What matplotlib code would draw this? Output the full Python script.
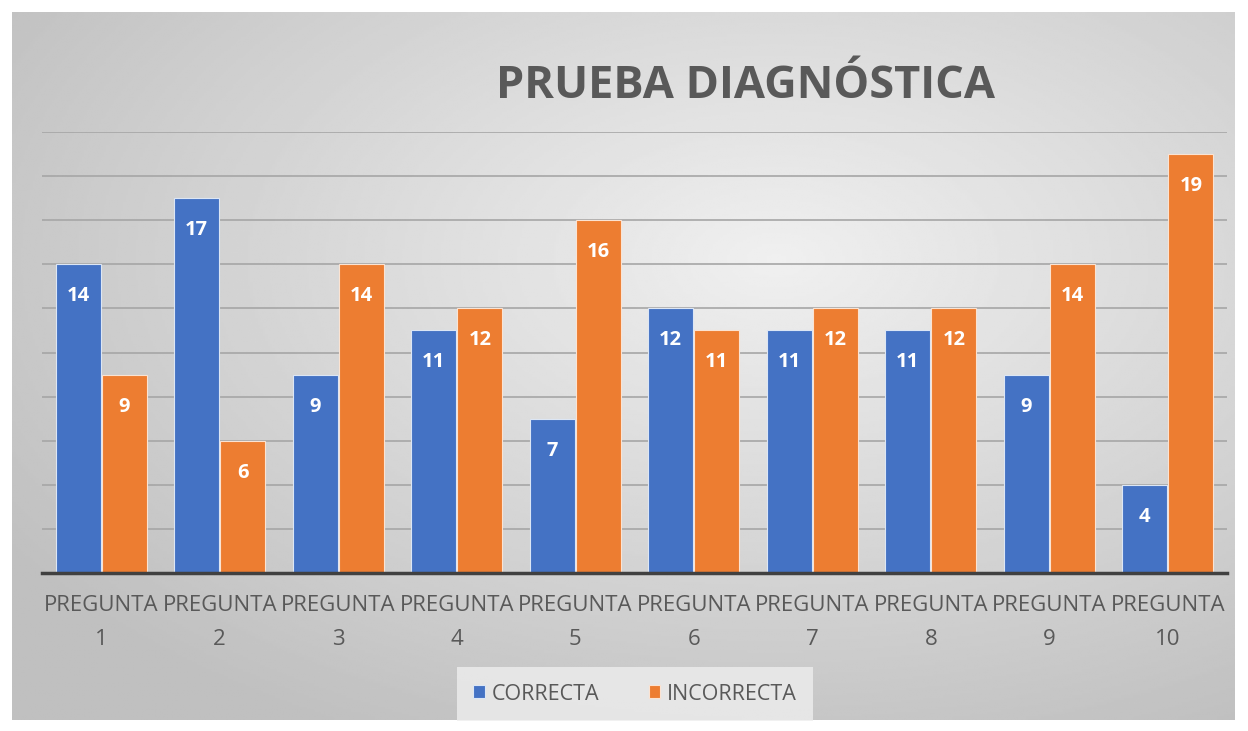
import matplotlib.pyplot as plt
import numpy as np

preguntas = ["PREGUNTA\n1", "PREGUNTA\n2", "PREGUNTA\n3", "PREGUNTA\n4", "PREGUNTA\n5",
             "PREGUNTA\n6", "PREGUNTA\n7", "PREGUNTA\n8", "PREGUNTA\n9", "PREGUNTA\n10"]
correcta = [14, 17, 9, 11, 7, 12, 11, 11, 9, 4]
incorrecta = [9, 6, 14, 12, 16, 11, 12, 12, 14, 19]

azul = "#4472C4"
naranja = "#ED7D31"
gris_txt = "#595959"

fig = plt.figure(figsize=(12.48, 7.31), dpi=100)
fig.patch.set_facecolor("white")

# gradient panel behind the chart
bg = fig.add_axes([12 / 1248, 1 - 720 / 731, 1223 / 1248, 708 / 731])
yy, xx = np.mgrid[-1:1:300j, -1:1:500j]
r = np.sqrt(((xx - 0.25) / 1.2) ** 2 + ((yy + 0.3) / 1.2) ** 2)
grad = np.clip(0.94 - 0.15 * r, 0.75, 0.95)
bg.imshow(grad, cmap="gray", vmin=0, vmax=1, aspect="auto", extent=[0, 1, 0, 1])
bg.axis("off")

# main axes: x 42..1227, y 132 (20) .. 573 (0)
ax = fig.add_axes([42 / 1248, 1 - 573 / 731, 1185 / 1248, 441 / 731])
ax.patch.set_alpha(0)

x = np.arange(len(preguntas))
w = 0.38
b1 = ax.bar(x - w / 2 - 0.005, correcta, w, color=azul, edgecolor="#dce6f5", linewidth=0.8, zorder=3)
b2 = ax.bar(x + w / 2 + 0.005, incorrecta, w, color=naranja, edgecolor="#fbe3d2", linewidth=0.8, zorder=3)

for bars, vals in [(b1, correcta), (b2, incorrecta)]:
    for bar, v in zip(bars, vals):
        ax.text(bar.get_x() + bar.get_width() / 2, v - 1.45, str(v), ha="center", va="center",
                color="white", fontsize=14.5, fontweight="bold", family="Open Sans", zorder=4)

ax.set_xlim(-0.5, len(preguntas) - 0.5)
ax.set_ylim(0, 20)
ax.set_yticks(np.arange(0, 21, 2))
ax.set_yticklabels([])
ax.tick_params(axis="y", length=0)
ax.grid(axis="y", color="#a6a6a6", linewidth=1.2, zorder=0)
ax.set_xticks(x)
ax.set_xticklabels(preguntas, fontsize=16, color=gris_txt, family="Open Sans",
                   linespacing=1.8)
ax.tick_params(axis="x", length=0, pad=16)
for s in ["top", "right", "left"]:
    ax.spines[s].set_visible(False)
ax.spines["bottom"].set_color("#404040")
ax.spines["bottom"].set_linewidth(2.5)
ax.spines["bottom"].set_zorder(5)

fig.text(746 / 1248, 1 - 86 / 731, "PRUEBA DIAGNÓSTICA", ha="center", va="center",
         fontsize=32.5, fontweight="bold", color=gris_txt, family="Open Sans")

leg = fig.legend([b1, b2], ["CORRECTA", "INCORRECTA"], loc="center",
                 bbox_to_anchor=(635 / 1248, 1 - 694 / 731), ncol=2, frameon=True,
                 handlelength=0.55, handleheight=0.55, handletextpad=0.3,
                 columnspacing=2.3, borderpad=0.75, borderaxespad=0,
                 prop={"family": "Open Sans", "size": 15.5})
leg.get_frame().set_facecolor("#eeeeee")
leg.get_frame().set_edgecolor("none")
leg.get_frame().set_alpha(0.8)
leg.get_frame().set_boxstyle("square", pad=0)
for t in leg.get_texts():
    t.set_color(gris_txt)

fig.savefig("out.png", dpi=100)
